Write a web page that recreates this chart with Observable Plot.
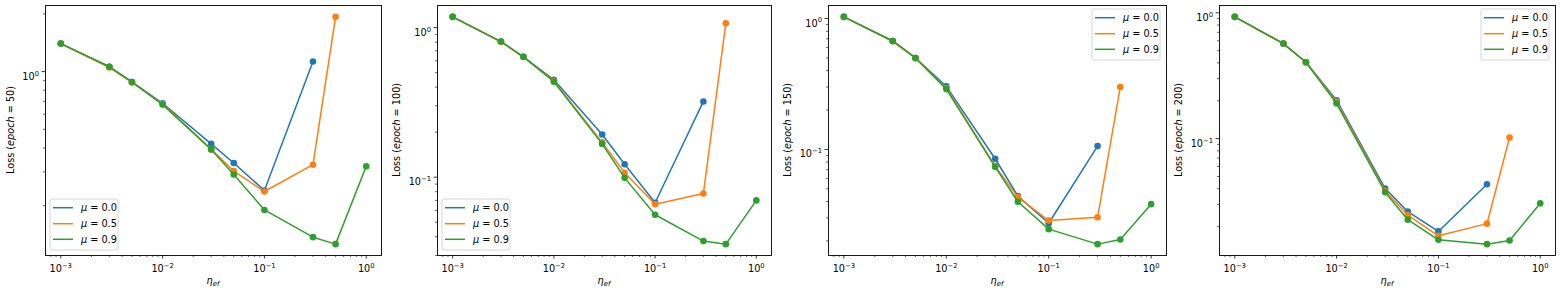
<!DOCTYPE html>
<html><head><meta charset="utf-8">
<script src="https://cdn.jsdelivr.net/npm/d3@7"></script>
<script src="https://cdn.jsdelivr.net/npm/@observablehq/plot@0.6"></script>
<style>
body{margin:0;background:#fff;}
#wrap{position:relative;width:1564px;height:293px;overflow:hidden;}
#wrap svg{position:absolute;top:0;}
</style></head><body><div id="wrap"></div>
<script>
// effective learning rates (x values)
const etas = [0.001, 0.003, 0.005, 0.01, 0.03, 0.05, 0.1, 0.3, 0.5, 1.0];
const epochs = [50, 100, 150, 200];
const muLabels = ["0.0", "0.5", "0.9"];
const colors = ["#1f77b4", "#ff7f0e", "#2ca02c"];

// Loss values, epoch 50
const e50_mu0 = [1.40, 1.06, 0.883, 0.684, 0.420, 0.334, 0.240, 1.13];
const e50_mu5 = [1.40, 1.05, 0.878, 0.677, 0.393, 0.303, 0.237, 0.327, 1.93];
const e50_mu9 = [1.40, 1.06, 0.883, 0.673, 0.393, 0.291, 0.190, 0.137, 0.126, 0.321];
// epoch 100
const e100_mu0 = [1.18, 0.807, 0.638, 0.448, 0.193, 0.122, 0.0675, 0.321];
const e100_mu5 = [1.18, 0.805, 0.636, 0.440, 0.171, 0.107, 0.066, 0.0779, 1.07];
const e100_mu9 = [1.18, 0.807, 0.638, 0.435, 0.167, 0.099, 0.0561, 0.0374, 0.0357, 0.070];
// epoch 150
const e150_mu0 = [1.03, 0.674, 0.500, 0.303, 0.0849, 0.0440, 0.0273, 0.106];
const e150_mu5 = [1.03, 0.670, 0.498, 0.295, 0.0745, 0.0432, 0.0286, 0.0303, 0.300];
const e150_mu9 = [1.03, 0.674, 0.500, 0.289, 0.0737, 0.0398, 0.0246, 0.0189, 0.0205, 0.0382];
// epoch 200
const e200_mu0 = [0.929, 0.570, 0.405, 0.202, 0.0401, 0.0263, 0.0183, 0.0434];
const e200_mu5 = [0.929, 0.570, 0.405, 0.196, 0.0384, 0.0247, 0.0169, 0.0211, 0.102];
const e200_mu9 = [0.929, 0.570, 0.405, 0.190, 0.0375, 0.0227, 0.0157, 0.0145, 0.0155, 0.0306];

const seriesByEpoch = [
  [e50_mu0, e50_mu5, e50_mu9],
  [e100_mu0, e100_mu5, e100_mu9],
  [e150_mu0, e150_mu5, e150_mu9],
  [e200_mu0, e200_mu5, e200_mu9]
];

// layout (frame positions in page pixels)
const layout = [
  {frameLeft: 45, frameRight: 381, legend: "bl"},
  {frameLeft: 437, frameRight: 771, legend: "bl"},
  {frameLeft: 828, frameRight: 1166, legend: "tr"},
  {frameLeft: 1219, frameRight: 1555, legend: "tr"}
];
const H = 293, mTop = 5, mBottom = 38, mLeft = 45, mRight = 8;
const FONT = "DejaVu Sans";
const FS = 9.7;

// tick label text "10|exp", split into base + superscript tspan afterwards
const fmtPow = v => "10|" + String(Math.round(Math.log10(v))).replace("-", "\u2212");

function logTicks(lo, hi) {
  const major = [], minor = [];
  for (let n = Math.floor(Math.log10(lo)) - 1; n <= Math.ceil(Math.log10(hi)) + 1; n++) {
    for (let k = 1; k <= 9; k++) {
      const v = +(k * Math.pow(10, n)).toPrecision(6);
      if (v < lo || v > hi) continue;
      (k === 1 ? major : minor).push(v);
    }
  }
  return {major, minor};
}

const xDomain = [Math.pow(10, -3.15), Math.pow(10, 0.15)];
const xt = logTicks(xDomain[0], xDomain[1]);
const wrap = document.getElementById("wrap");

epochs.forEach((epoch, i) => {
  const L = layout[i];
  const series = seriesByEpoch[i];
  const rows = [];
  series.forEach((vals, s) => vals.forEach((v, j) => rows.push({eta: etas[j], loss: v, s})));
  const lmin = Math.log10(d3.min(rows, d => d.loss)), lmax = Math.log10(d3.max(rows, d => d.loss));
  const pad = (lmax - lmin) * 0.05;
  const yDomain = [Math.pow(10, lmin - pad), Math.pow(10, lmax + pad)];
  const yt = logTicks(yDomain[0], yDomain[1]);

  const marks = [];
  series.forEach((vals, s) => {
    const data = rows.filter(d => d.s === s);
    marks.push(Plot.line(data, {x: "eta", y: "loss", stroke: colors[s], strokeWidth: 1.5}));
    marks.push(Plot.dot(data, {x: "eta", y: "loss", fill: colors[s], r: 3.3, stroke: "none"}));
  });
  marks.push(Plot.axisX({ticks: xt.major, tickFormat: fmtPow, tickSize: 3.5, tickPadding: 6, label: null, strokeWidth: 0.8}));
  marks.push(Plot.axisX({ticks: xt.minor, tickFormat: () => "", tickSize: 2, label: null, strokeWidth: 0.6}));
  marks.push(Plot.axisY({ticks: yt.major, tickFormat: fmtPow, tickSize: 3.5, tickPadding: 3, label: null, strokeWidth: 0.8}));
  marks.push(Plot.axisY({ticks: yt.minor, tickFormat: () => "", tickSize: 2, label: null, strokeWidth: 0.6}));
  marks.push(Plot.frame({stroke: "black", strokeWidth: 0.9}));

  const width = L.frameRight - L.frameLeft + mLeft + mRight;
  const svg = Plot.plot({
    width, height: H,
    marginTop: mTop, marginBottom: mBottom, marginLeft: mLeft, marginRight: mRight,
    x: {type: "log", domain: xDomain},
    y: {type: "log", domain: yDomain},
    style: {fontSize: FS + "px", fontFamily: FONT, color: "black", background: "none", overflow: "visible"},
    marks
  });
  svg.style.left = (L.frameLeft - mLeft) + "px";
  wrap.appendChild(svg);

  const sel = d3.select(svg);
  // turn "10|e" labels into 10 with superscript exponent
  sel.selectAll("text").each(function() {
    const t = d3.select(this);
    const s = t.text();
    if (s.indexOf("|") < 0) return;
    const [base, ex] = s.split("|");
    t.text(null);
    t.append("tspan").text(base);
    t.append("tspan").attr("font-size", FS * 0.7).attr("dy", "-0.6em").text(ex);
  });
  sel.selectAll('g[aria-label="y-axis tick label"] text').attr("dy", "0.5em");

  const frameW = L.frameRight - L.frameLeft;
  const frameBottom = H - mBottom;
  // y label
  const hasTenth = yt.major.length > 1;
  const ylx = mLeft - (hasTenth ? 40 : 34);
  const yl = sel.append("text")
    .attr("transform", `translate(${ylx},${(mTop + frameBottom) / 2}) rotate(-90)`)
    .attr("text-anchor", "middle").attr("dominant-baseline", "middle")
    .attr("font-family", FONT).attr("font-size", FS).attr("fill", "black");
  yl.append("tspan").text("Loss (");
  yl.append("tspan").attr("font-style", "italic").text("epoch");
  yl.append("tspan").text(" = " + epoch + ")");
  // x label
  const xl = sel.append("text")
    .attr("x", mLeft + frameW / 2).attr("y", 283.5)
    .attr("text-anchor", "middle")
    .attr("font-family", FONT).attr("font-size", FS).attr("fill", "black");
  xl.append("tspan").attr("font-style", "italic").text("\u03B7");
  xl.append("tspan").attr("font-style", "italic").attr("font-size", 7).attr("dy", 2).text("ef");

  // legend
  const lw = 68, lh = 51;
  const lx = L.legend === "bl" ? mLeft + 5 : mLeft + frameW - 6 - lw;
  const ly = L.legend === "bl" ? frameBottom - 5 - lh : mTop + 4;
  const g = sel.append("g").attr("transform", `translate(${lx},${ly})`);
  g.append("rect").attr("width", lw).attr("height", lh).attr("rx", 2)
    .attr("fill", "white").attr("fill-opacity", 0.8).attr("stroke", "#cccccc").attr("stroke-width", 0.8);
  const rowY = [8.7, 24.7, 40.3];
  muLabels.forEach((m, s) => {
    g.append("line").attr("x1", 3).attr("x2", 23).attr("y1", rowY[s]).attr("y2", rowY[s])
      .attr("stroke", colors[s]).attr("stroke-width", 1.5);
    const t = g.append("text").attr("x", 31).attr("y", rowY[s]).attr("dy", "0.35em")
      .attr("text-anchor", "start")
      .attr("font-family", FONT).attr("font-size", FS).attr("fill", "black");
    t.append("tspan").attr("font-style", "italic").text("\u03BC");
    t.append("tspan").text(" = " + m);
  });
});
</script></body></html>
